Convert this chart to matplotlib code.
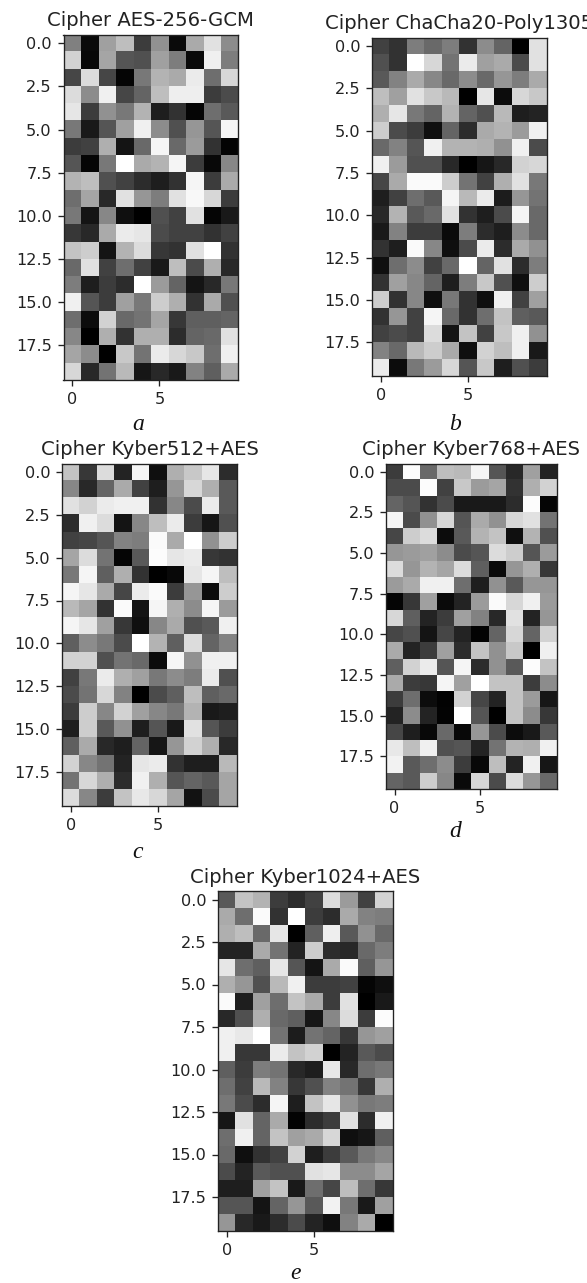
import matplotlib
matplotlib.use("Agg")
import matplotlib.pyplot as plt
import numpy as np

W, H = 587, 1283

aes256 = [
 [128,10,160,190,60,145,10,170,225,140],
 [210,8,165,85,80,160,125,10,240,125],
 [70,220,70,5,120,180,170,235,110,215],
 [220,140,240,70,100,190,238,238,60,75],
 [230,60,145,120,180,30,50,5,110,90],
 [120,25,85,160,240,140,80,150,85,245],
 [60,65,175,20,105,245,105,155,50,3],
 [85,5,120,255,170,180,245,60,8,135],
 [180,190,80,65,45,30,50,245,60,170],
 [110,165,40,225,150,125,225,248,215,60],
 [120,20,135,15,0,80,65,225,5,25],
 [55,40,170,235,230,75,65,65,50,65],
 [195,205,20,180,220,55,50,225,255,50],
 [105,225,65,110,65,25,190,75,175,40],
 [125,30,60,45,255,155,100,20,40,120],
 [240,85,60,160,120,205,175,50,170,80],
 [110,12,210,105,115,165,55,95,95,100],
 [135,0,175,50,175,175,45,100,105,225],
 [165,140,0,200,115,235,215,200,110,240],
 [215,40,115,185,22,40,25,130,95,170],
]
chacha = [
 [65,50,125,105,125,50,140,100,0,225],
 [80,50,255,215,115,235,160,170,75,225],
 [90,130,170,135,105,140,105,150,125,170],
 [190,160,225,200,185,0,230,12,215,200],
 [175,230,120,100,180,100,80,185,30,35],
 [205,75,60,15,100,45,170,180,155,240],
 [105,130,85,240,180,180,175,145,240,75],
 [240,155,80,80,40,0,22,40,210,215],
 [70,170,250,250,205,115,65,175,225,120],
 [30,65,110,90,245,185,235,28,150,115],
 [40,180,90,105,225,50,30,75,245,105],
 [25,130,60,60,10,125,45,30,140,105],
 [50,30,250,135,15,75,235,45,170,145],
 [15,110,140,65,105,255,100,225,45,125],
 [50,160,135,100,30,125,200,80,15,205],
 [205,50,135,15,120,50,15,240,65,160],
 [50,150,65,245,105,50,110,195,95,90],
 [65,75,65,220,20,195,65,200,240,145],
 [130,105,185,205,170,15,210,190,240,25],
 [235,12,120,155,215,85,200,30,80,60],
]
kyber512 = [
 [195,55,220,35,245,15,175,200,230,45],
 [135,40,100,170,65,30,150,215,175,90],
 [225,210,235,240,240,50,135,75,235,90],
 [45,240,220,20,135,190,235,60,22,80],
 [65,70,85,130,125,250,170,255,145,205],
 [165,220,115,5,90,252,230,235,55,50],
 [120,245,95,175,50,0,8,230,245,190],
 [245,230,170,70,235,250,60,150,12,205],
 [185,165,50,250,20,245,175,140,245,155],
 [245,230,160,55,15,135,170,80,90,240],
 [95,140,120,75,255,180,95,220,100,130],
 [210,210,80,115,105,12,245,145,240,240],
 [65,120,235,175,160,120,140,125,235,80],
 [75,115,215,130,0,75,95,190,95,105],
 [60,205,135,210,160,135,120,180,25,30],
 [30,205,90,145,30,85,25,225,85,60],
 [95,170,40,30,100,22,150,210,175,40],
 [210,135,115,35,230,235,50,30,30,185],
 [115,215,175,45,240,175,85,100,90,165],
 [220,135,60,195,232,215,165,18,75,165],
]
kyber768 = [
 [60,252,105,190,185,245,85,40,160,35],
 [75,75,252,65,200,155,165,50,175,210],
 [100,85,50,75,25,25,25,45,252,5],
 [245,75,145,215,85,170,145,215,225,115],
 [70,205,220,12,90,180,195,15,180,80],
 [150,155,160,140,75,85,220,205,85,155],
 [220,150,180,165,220,95,10,150,175,55],
 [155,170,240,240,110,30,145,90,150,150],
 [5,55,160,10,35,155,250,215,240,155],
 [215,95,35,60,160,130,40,225,35,150],
 [70,80,20,70,35,3,100,215,100,210],
 [170,35,60,160,45,195,145,200,0,240],
 [95,210,235,85,245,45,145,90,252,195],
 [170,60,55,245,160,255,195,195,60,140],
 [60,110,12,2,210,70,35,195,155,22],
 [35,140,35,3,255,85,0,195,140,55],
 [70,30,8,105,8,150,75,12,25,90],
 [232,190,240,80,85,35,115,180,175,240],
 [242,90,110,140,60,8,190,35,240,22],
 [100,90,205,135,10,215,75,220,150,105],
]
kyber1024 = [
 [90,195,180,60,45,65,220,155,65,210],
 [170,110,250,50,255,60,45,170,130,125],
 [175,190,105,230,0,95,238,90,145,105],
 [35,35,170,115,35,205,45,40,105,125],
 [230,110,95,230,85,20,170,250,95,150],
 [175,150,80,185,240,60,60,65,5,15],
 [250,30,160,110,195,170,60,225,0,25],
 [40,80,175,105,95,22,135,220,60,252],
 [240,232,255,115,28,115,100,55,150,160],
 [240,55,55,235,195,210,0,35,90,75],
 [95,60,125,115,40,30,232,40,110,120],
 [110,65,185,130,55,80,130,115,55,175],
 [120,75,45,245,30,195,230,145,120,125],
 [22,225,100,170,3,45,60,225,45,240],
 [110,240,100,195,160,170,215,15,22,95],
 [105,15,50,65,210,30,60,90,120,135],
 [75,35,90,80,80,225,230,140,140,165],
 [30,30,160,195,25,110,70,190,110,55],
 [85,85,20,100,150,90,242,120,25,160],
 [150,40,25,45,75,35,15,130,170,0],
]

titles = ["Cipher AES-256-GCM", "Cipher ChaCha20-Poly1305", "Cipher Kyber512+AES",
          "Cipher Kyber768+AES", "Cipher Kyber1024+AES"]
captions = ["a", "b", "c", "d", "e"]
panels = [aes256, chacha, kyber512, kyber768, kyber1024]
xticks = [0, 5]
yticks = [0.0, 2.5, 5.0, 7.5, 10.0, 12.5, 15.0, 17.5]

# left, right, top, bottom in pixels; caption centre x, caption baseline y
boxes = [(63.5, 238, 34.5, 380), (372, 547, 37.5, 376), (62, 237, 463.5, 806),
         (386, 557, 463.5, 789), (218, 393, 891, 1231)]
cap_pos = [(138, 430), (455, 430), (138, 858), (455, 837), (296, 1279)]

fig = plt.figure(figsize=(W / 100, H / 100), dpi=100)
for vals, title, cap, box, cp in zip(panels, titles, captions, boxes, cap_pos):
    l, r, t, b = box
    ax = fig.add_axes([l / W, 1 - b / H, (r - l) / W, (b - t) / H])
    ax.imshow(np.array(vals), cmap="gray", vmin=0, vmax=255, aspect="auto", interpolation="nearest")
    ax.set_xticks(xticks)
    ax.set_yticks(yticks)
    ax.tick_params(labelsize=11.6, colors="#222222", length=4.2, width=0.96, pad=4.2)
    ax.set_title(title, fontsize=14.1, color="#222222", pad=6)
    for s in ax.spines.values():
        s.set_color("#222222")
        s.set_linewidth(0.96)
    fig.text(cp[0] / W, 1 - cp[1] / H, cap, family="Liberation Serif", style="italic",
             fontsize=17, ha="center", va="baseline", color="#111111")

fig.savefig("out.png", dpi=100)
